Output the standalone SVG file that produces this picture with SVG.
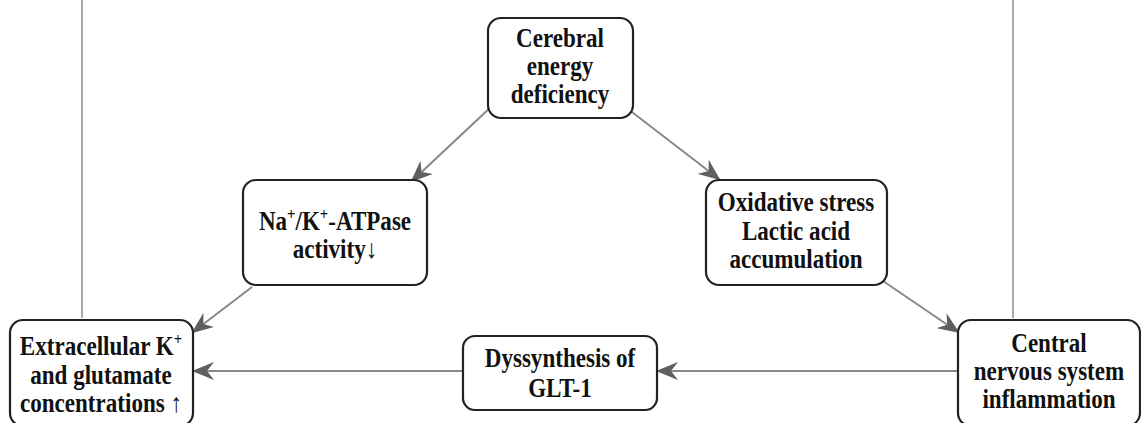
<svg xmlns="http://www.w3.org/2000/svg" width="1141" height="423" viewBox="0 0 1141 423">
  <style>
    .box { fill: #ffffff; stroke: #222222; stroke-width: 2.2; }
    .lbl { font-family: "Liberation Serif", "Times New Roman", serif; font-weight: bold; font-size: 26.5px; fill: #111111; text-anchor: middle; }
    .sup { font-size: 17px; }
    .edge { fill: none; stroke: #888888; stroke-width: 2; }
    .rule { fill: none; stroke: #aaaaaa; stroke-width: 2; }
  </style>
  <defs>
    <marker id="arrow" viewBox="0 0 22 18" refX="20" refY="9" markerWidth="22" markerHeight="18" markerUnits="userSpaceOnUse" orient="auto">
      <path d="M0,0 L22,9 L0,18 L7,9 Z" fill="#5f5f5f"/>
    </marker>
  </defs>
  <rect width="1141" height="423" fill="#ffffff"/>

  <!-- side rules -->
  <line class="rule" x1="82" y1="0" x2="82" y2="318"/>
  <line class="rule" x1="1013" y1="0" x2="1013" y2="318"/>

  <g id="connectors">
    <line class="edge" x1="492" y1="106" x2="412" y2="181" marker-end="url(#arrow)"/>
    <line class="edge" x1="628" y1="109" x2="719" y2="179" marker-end="url(#arrow)"/>
    <line class="edge" x1="252" y1="287" x2="193" y2="332" marker-end="url(#arrow)"/>
    <line class="edge" x1="883" y1="281" x2="958" y2="332" marker-end="url(#arrow)"/>
    <line class="edge" x1="958" y1="371" x2="658" y2="371" marker-end="url(#arrow)"/>
    <line class="edge" x1="463" y1="371" x2="194" y2="371" marker-end="url(#arrow)"/>
  </g>

  <!-- labels are set in a slightly condensed bold serif -->
  <g id="cerebral">
    <rect class="box" x="488" y="18" width="145" height="100" rx="13"/>
    <text class="lbl" transform="translate(560,47) scale(0.87,1)">Cerebral</text>
    <text class="lbl" transform="translate(560,75) scale(0.87,1)">energy</text>
    <text class="lbl" transform="translate(560,103) scale(0.87,1)">deficiency</text>
  </g>

  <g id="atpase">
    <rect class="box" x="243" y="180" width="184" height="105" rx="13"/>
    <text class="lbl" transform="translate(335,230) scale(0.87,1)">Na<tspan class="sup" dy="-10">+</tspan><tspan dy="10">/K</tspan><tspan class="sup" dy="-10">+</tspan><tspan dy="10">-ATPase</tspan></text>
    <text class="lbl" transform="translate(335,258) scale(0.87,1)">activity↓</text>
  </g>

  <g id="oxidative">
    <rect class="box" x="706" y="180" width="181" height="105" rx="13"/>
    <text class="lbl" transform="translate(796,211) scale(0.87,1)">Oxidative stress</text>
    <text class="lbl" transform="translate(796,240) scale(0.87,1)">Lactic acid</text>
    <text class="lbl" transform="translate(796,268) scale(0.87,1)">accumulation</text>
  </g>

  <g id="extracellular">
    <rect class="box" x="10" y="320" width="183" height="106" rx="13"/>
    <text class="lbl" transform="translate(101,355) scale(0.87,1)">Extracellular K<tspan class="sup" dy="-10">+</tspan></text>
    <text class="lbl" transform="translate(101,384) scale(0.87,1)">and glutamate</text>
    <text class="lbl" transform="translate(101,412) scale(0.87,1)">concentrations ↑</text>
  </g>

  <g id="glt1">
    <rect class="box" x="463" y="336" width="194" height="74" rx="12"/>
    <text class="lbl" transform="translate(560,367) scale(0.87,1)">Dyssynthesis of</text>
    <text class="lbl" transform="translate(560,397) scale(0.87,1)">GLT-1</text>
  </g>

  <g id="inflammation">
    <rect class="box" x="958" y="320" width="182" height="106" rx="13"/>
    <text class="lbl" transform="translate(1049,352) scale(0.87,1)">Central</text>
    <text class="lbl" transform="translate(1049,380) scale(0.87,1)">nervous system</text>
    <text class="lbl" transform="translate(1049,408) scale(0.87,1)">inflammation</text>
  </g>
</svg>
